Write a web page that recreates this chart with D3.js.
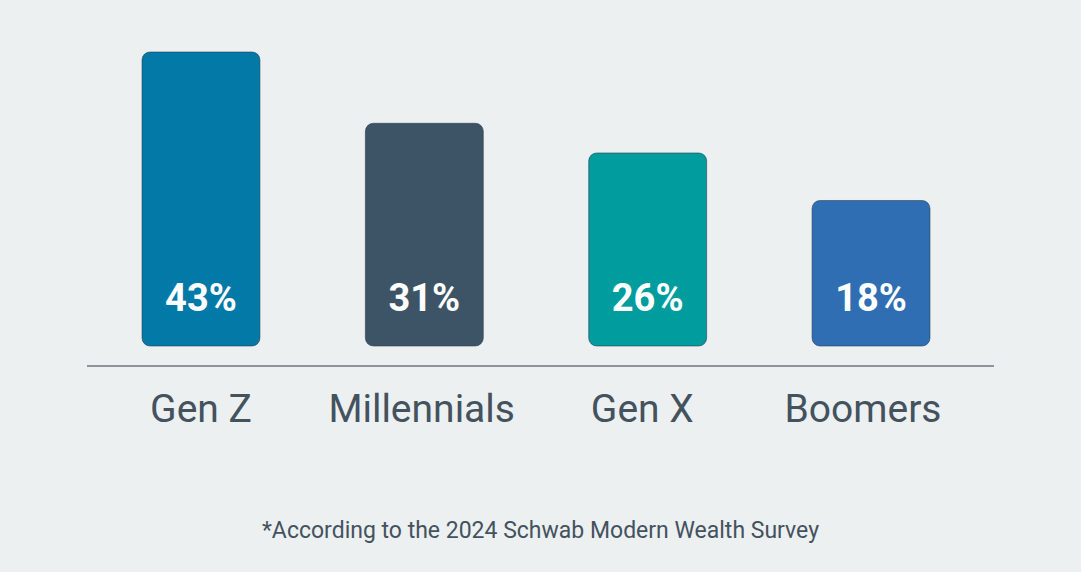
<!DOCTYPE html>
<html>
<head>
<meta charset="utf-8">
<script src="https://cdn.jsdelivr.net/npm/d3@7"></script>
<style>
  html, body { margin: 0; padding: 0; background: #ECF0F1; }
  svg { display: block; }
</style>
</head>
<body>
<svg id="chart" width="1081" height="572"></svg>
<script>
const categories = ["Gen Z", "Millennials", "Gen X", "Boomers"];
const values = [43, 31, 26, 18];
const valueLabels = ["43%", "31%", "26%", "18%"];
const barColors = ["#0379A8", "#3D5466", "#009C9E", "#306EB4"];
const footnote = "*According to the 2024 Schwab Modern Wealth Survey";

const W = 1081, H = 572;
const baseY = 346, topY = 52;
const svg = d3.select("#chart");
svg.append("rect").attr("width", W).attr("height", H).attr("fill", "#ECF0F1");

const x = d3.scaleBand().domain(categories).range([89.3, 982.7])
  .paddingInner(0.472).paddingOuter(0.236);
const labelX = d3.scalePoint().domain(categories).range([201, 863]);
const y = d3.scaleLinear().domain([-6.5, d3.max(values)]).range([baseY, topY]);

const data = categories.map((c, i) => ({ c, v: values[i], label: valueLabels[i], color: barColors[i] }));

const g = svg.append("g");
g.selectAll("rect.bar").data(data).join("rect")
  .attr("class", "bar")
  .attr("x", d => x(d.c))
  .attr("y", d => y(d.v))
  .attr("width", x.bandwidth())
  .attr("height", d => baseY - y(d.v))
  .attr("rx", 8).attr("ry", 8)
  .attr("fill", d => d.color)
  .attr("stroke", "#23384a")
  .attr("stroke-opacity", 0.55)
  .attr("stroke-width", 1);

g.selectAll("text.val").data(data).join("text")
  .attr("class", "val")
  .attr("x", d => x(d.c) + x.bandwidth() / 2)
  .attr("y", baseY - 35)
  .attr("text-anchor", "middle")
  .attr("font-family", "Roboto, 'Open Sans', sans-serif")
  .attr("font-weight", 700)
  .attr("font-size", 38)
  .attr("fill", "#FFFFFF")
  .text(d => d.label);

// baseline
const ax = svg.append("g").attr("transform", `translate(0,366)`);
ax.append("line").attr("x1", 87).attr("x2", 994).attr("y1", 0).attr("y2", 0)
  .attr("stroke", "#6E777E").attr("stroke-width", 1.5);
ax.selectAll("text.cat").data(categories).join("text")
  .attr("class", "cat")
  .attr("x", d => labelX(d))
  .attr("y", 56)
  .attr("text-anchor", "middle")
  .attr("font-family", "Roboto, 'Open Sans', sans-serif")
  .attr("font-size", 39)
  .attr("fill", "#44525E")
  .text(d => d);

svg.append("text")
  .attr("x", W / 2)
  .attr("y", 537.5)
  .attr("text-anchor", "middle")
  .attr("font-family", "Roboto, 'Open Sans', sans-serif")
  .attr("font-size", 23)
  .attr("fill", "#44525E")
  .text(footnote);
</script>
</body>
</html>
